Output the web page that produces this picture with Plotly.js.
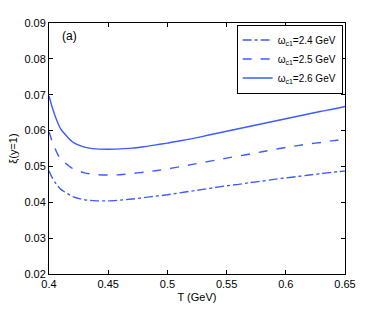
<!DOCTYPE html>
<html><head><meta charset="utf-8">
<script src="https://cdn.plot.ly/plotly-3.0.1.min.js"></script>
<style>html,body{margin:0;padding:0;background:#fff;}#plot{width:382px;height:309px;}</style>
</head><body><div id="plot"></div>
<script>
const T = [0.40,0.4025,0.405,0.4075,0.41,0.42,0.43,0.44,0.45,0.46,0.47,0.48,0.49,0.50,0.51,0.52,0.53,0.54,0.55,0.56,0.57,0.58,0.59,0.60,0.61,0.62,0.63,0.64,0.65];
const xi24 = [0.0488,0.0470,0.0456,0.0445,0.0436,0.0416,0.0407,0.0404,0.0404,0.0406,0.0409,0.0413,0.0417,0.0421,0.0426,0.0431,0.0436,0.0441,0.0446,0.0450,0.0455,0.0459,0.0464,0.0468,0.0472,0.0476,0.0480,0.0484,0.0487];
const xi25 = [0.0597,0.0572,0.0551,0.0533,0.0520,0.0494,0.0482,0.0477,0.0476,0.0477,0.0480,0.0484,0.0488,0.0493,0.0499,0.0505,0.0511,0.0517,0.0523,0.0529,0.0535,0.0541,0.0547,0.0553,0.0558,0.0563,0.0567,0.0572,0.0576];
const xi26 = [0.0697,0.0667,0.0642,0.0621,0.0604,0.0568,0.0554,0.0549,0.0548,0.0549,0.0551,0.0555,0.0560,0.0565,0.0571,0.0577,0.0584,0.0591,0.0598,0.0605,0.0612,0.0619,0.0626,0.0633,0.0640,0.0647,0.0654,0.0660,0.0667];
const names = ["ω<sub>c1</sub>=2.4 GeV","ω<sub>c1</sub>=2.5 GeV","ω<sub>c1</sub>=2.6 GeV"];
const xTicks = [0.4,0.45,0.5,0.55,0.6,0.65];
const xTickText = ["0.4","0.45","0.5","0.55","0.6","0.65"];
const yTicks = [0.02,0.03,0.04,0.05,0.06,0.07,0.08,0.09];
const yTickText = ["0.02","0.03","0.04","0.05","0.06","0.07","0.08","0.09"];

const blue = "#3d5cff";
const traces = [
  {x:T,y:xi24,name:names[0],mode:"lines",line:{color:blue,width:1.4,dash:"dashdot",shape:"spline",smoothing:0.6}},
  {x:T,y:xi25,name:names[1],mode:"lines",line:{color:blue,width:1.4,dash:"dash",shape:"spline",smoothing:0.6}},
  {x:T,y:xi26,name:names[2],mode:"lines",line:{color:blue,width:1.4,dash:"solid",shape:"spline",smoothing:0.6}}
];
const fnt = {family:"Liberation Sans, Arial, sans-serif",size:11,color:"#000"};
const layout = {
  width:382,height:309,
  margin:{l:49,r:37,t:23,b:35},
  paper_bgcolor:"#fff",plot_bgcolor:"#fff",
  font:fnt,
  showlegend:true,
  legend:{x:0.992,y:0.994,xanchor:"right",yanchor:"top",bgcolor:"#fff",bordercolor:"#000",borderwidth:1,font:{family:fnt.family,size:10,color:"#000"},tracegroupgap:0,itemwidth:30},
  xaxis:{range:[0.4,0.65],tickvals:xTicks,ticktext:xTickText,ticks:"inside",ticklen:4,tickcolor:"#000",showline:true,linecolor:"#000",linewidth:1,mirror:"ticks",showgrid:false,zeroline:false,
    title:{text:"T (GeV)",font:fnt,standoff:4},tickfont:fnt},
  yaxis:{range:[0.02,0.09],tickvals:yTicks,ticktext:yTickText,ticks:"inside",ticklen:4,tickcolor:"#000",showline:true,linecolor:"#000",linewidth:1,mirror:"ticks",showgrid:false,zeroline:false,
    title:{text:"ξ(y=1)",font:fnt,standoff:4},tickfont:fnt},
  annotations:[{x:0.409,y:0.0865,xref:"x",yref:"y",text:"(a)",showarrow:false,xanchor:"left",font:{family:fnt.family,size:12,color:"#000"}}]
};
Plotly.newPlot("plot",traces,layout,{staticPlot:true,displayModeBar:false});
</script></body></html>
